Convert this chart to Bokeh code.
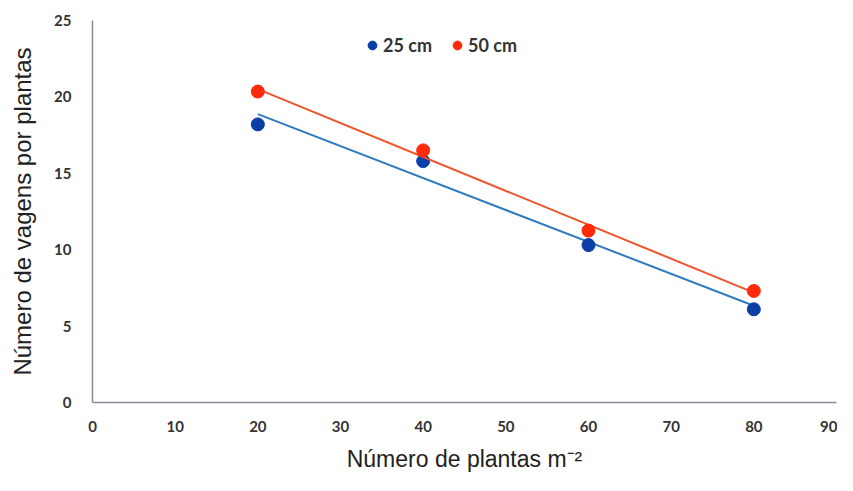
import numpy as np
from bokeh.plotting import figure
from bokeh.models import Range1d, FixedTicker, Legend, LegendItem
from bokeh.embed import file_html
from bokeh.resources import INLINE

# Data
densidade = [20, 40, 60, 80]
vagens_25 = [18.2, 15.8, 10.3, 6.1]
vagens_50 = [20.35, 16.5, 11.25, 7.3]
series_labels = ["25 cm", "50 cm"]
x_ticks = [0, 10, 20, 30, 40, 50, 60, 70, 80, 90]
y_ticks = [0, 5, 10, 15, 20, 25]

dot_colors = ["#0A3FA8", "#FF2A0A"]
line_colors = ["#2F7BBF", "#F0542A"]

p = figure(width=837, height=475, output_backend="svg", toolbar_location=None,
           x_range=Range1d(0, 90), y_range=Range1d(0, 25),
           min_border_left=92, min_border_right=1, min_border_top=20, min_border_bottom=73)
p.outline_line_color = None
p.xgrid.grid_line_color = None
p.ygrid.grid_line_color = None

renderers = []
for ys, dc, lc in zip([vagens_25, vagens_50], dot_colors, line_colors):
    m, b = np.polyfit(densidade, ys, 1)
    xs = [densidade[0], densidade[-1]]
    p.line(xs, [m * x + b for x in xs], line_color=lc, line_width=2)
    r = p.scatter(densidade, ys, size=13, fill_color=dc, line_color=dc)
    renderers.append(r)

legend = Legend(items=[LegendItem(label=l, renderers=[r]) for l, r in zip(series_labels, renderers)],
                orientation="horizontal", location=(269, 344),
                border_line_color=None, background_fill_alpha=0,
                label_text_font="Lato", label_text_font_style="bold",
                label_text_font_size="18px", label_text_color="#333333",
                glyph_width=22, glyph_height=26, label_standoff=0, spacing=14,
                padding=0, margin=0)
p.add_layout(legend, "center")

for ax in [p.xaxis[0], p.yaxis[0]]:
    ax.axis_line_color = "#8C8C9A"
    ax.axis_line_width = 1.5
    ax.major_tick_line_color = None
    ax.minor_tick_line_color = None
    ax.major_label_text_font = "Lato"
    ax.major_label_text_font_style = "bold"
    ax.major_label_text_font_size = "15px"
    ax.major_label_text_color = "#333333"
    ax.axis_label_text_font = "Liberation Sans"
    ax.axis_label_text_font_style = "normal"
    ax.axis_label_text_color = "#222222"

p.xaxis.axis_label_text_font_size = "23px"
p.yaxis.axis_label_text_font_size = "24px"
p.xaxis.ticker = FixedTicker(ticks=x_ticks)
p.yaxis.ticker = FixedTicker(ticks=y_ticks)
p.xaxis.major_label_standoff = 12
p.yaxis.major_label_standoff = 15
p.xaxis.axis_label = "Número de plantas m⁻²"
p.yaxis.axis_label = "Número de vagens por plantas"
p.xaxis.axis_label_standoff = 11
p.yaxis.axis_label_standoff = 15

open("out.html", "w").write(file_html(p, INLINE))
